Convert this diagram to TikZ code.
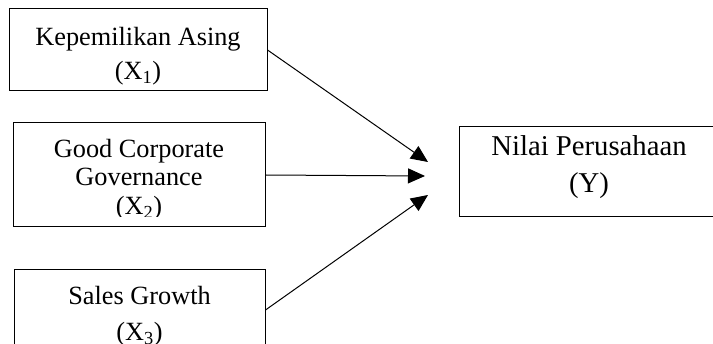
\documentclass[tikz,border=0pt]{standalone}
\usepackage{fontspec}
\setmainfont{Liberation Serif}
\usetikzlibrary{arrows.meta}

\begin{document}
\begin{tikzpicture}[x=1pt,y=-1pt,line width=1pt,
    kotak/.style={draw,inner sep=0pt},
    teks/.style={anchor=base,inner sep=0pt,font=\fontsize{26.3}{30}\selectfont},
    teksy/.style={anchor=base,inner sep=0pt,font=\fontsize{28.7}{33}\selectfont},
    panah/.style={-{Triangle[length=17pt,width=15pt]}}]
    \useasboundingbox (0,0) rectangle (713,344);

    \node[kotak,minimum width=258pt,minimum height=82pt] (X1) at (138,50) {};
    \node[kotak,minimum width=252pt,minimum height=104pt] (X2) at (139,175) {};
    \node[kotak,minimum width=251pt,minimum height=80pt] (X3) at (139.5,310) {};
    \node[kotak,minimum width=260pt,minimum height=90pt] (Y) at (589,172) {};

    \node[teks] (X1a) at (138,46) {Kepemilikan Asing};
    \node[teks] (X1b) at (138,80) {(X\textsubscript{1})};

    \node[teks] (X2a) at (139,157.5) {Good Corporate};
    \node[teks] (X2b) at (139,186) {Governance};
    \begin{scope}
      \clip (13,123) rectangle (265,217);
      \node[teks] (X2c) at (139,215) {(X\textsubscript{2})};
    \end{scope}

    \node[teks] (X3a) at (139.5,305) {Sales Growth};
    \node[teks] (X3b) at (139.5,341) {(X\textsubscript{3})};

    \node[teksy] (Ya) at (589,156) {Nilai Perusahaan};
    \node[teksy] (Yb) at (589,193) {(Y)};

    \coordinate (t1) at (428,162);
    \coordinate (t2) at (425,176);
    \coordinate (t3) at (428,195);

    \draw[panah] (X1.east) -- (t1);
    \draw[panah] (X2.east) -- (t2);
    \draw[panah] (X3.east) -- (t3);
\end{tikzpicture}
\end{document}
